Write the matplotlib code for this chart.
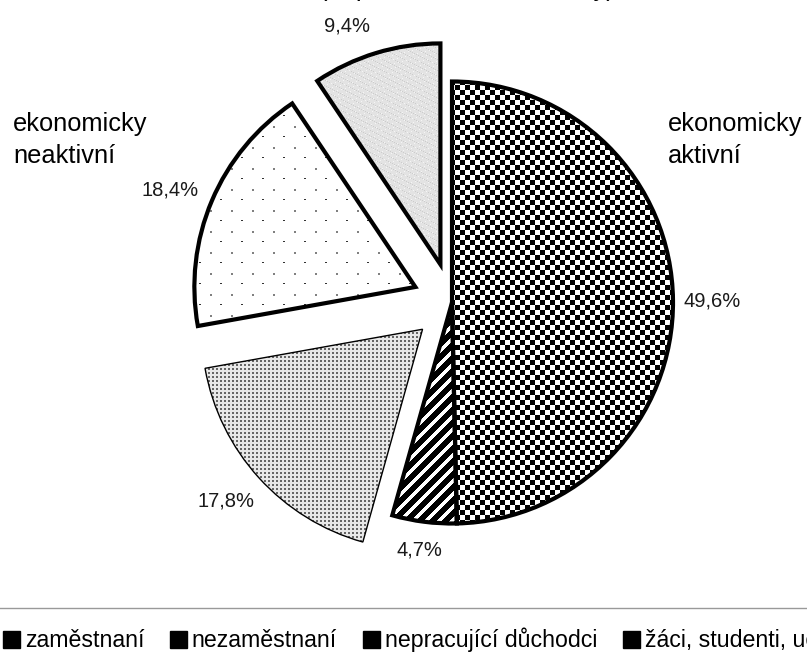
import numpy as np
import matplotlib
matplotlib.use('Agg')
import matplotlib.pyplot as plt
from matplotlib.patches import Patch

plt.rcParams['font.family'] = ['Liberation Sans', 'DejaVu Sans']

categories = ['zaměstnaní', 'nezaměstnaní', 'nepracující důchodci',
              'žáci, studenti, učni', 'ostatní']
shares = [49.6, 4.7, 17.8, 18.4, 9.4]
share_labels = ['49,6%', '4,7%', '17,8%', '18,4%', '9,4%']
explode = [0, 0, 0.18, 0.18, 0.18]
# small pixel nudges of the percentage labels (dx right, dy down)
label_nudge = [(2, 1), (0, -9), (-5, -2), (-7, 4), (-18, 9)]

W, H = 807, 664
CX, CY, R = 452, 302.5, 221   # pie centre / radius in pixels

fig = plt.figure(figsize=(W / 100, H / 100), dpi=100)
ax = fig.add_axes([0, 0, 1, 1])

lbl_iter = iter(share_labels)
wedges, texts, autotexts = ax.pie(
    shares, explode=explode, startangle=90, counterclock=False,
    colors=['none'] * len(shares), autopct=lambda p: next(lbl_iter),
    pctdistance=1.17, wedgeprops=dict(edgecolor='black', linewidth=3),
    textprops=dict(fontsize=14.5, color='#1a1a1a'))
wedges[2].set_linewidth(1.0)
for w in wedges:
    w.set_zorder(3)
for t, (dx, dy) in zip(autotexts, label_nudge):
    x, y = t.get_position()
    t.set_position((x + dx / R, y - dy / R))

# fill textures (pixel grid of the figure)
ii, jj = np.mgrid[0:H, 0:W]
checker = np.where(((ii // 5) + (jj // 5)) % 2 == 0, 0.0, 1.0)
stripes = np.where((ii + jj) % 13 < 8, 0.0, 1.0)
fine = np.where((ii % 4 < 2) & (jj % 4 < 2), 0.4, 0.91)
sparse = np.ones((H, W))
sparse[(ii % 21 < 2) & (jj % 21 < 2)] = 0.5
sparse[(ii % 21 == 10) & (jj % 21 >= 10) & (jj % 21 < 12)] = 0.2
speck = np.full((H, W), 0.89)
speck[(ii * 7 + jj * 13) % 11 == 0] = 0.8
speck[(ii * 3 + jj * 5) % 17 == 0] = 0.96
textures = [checker, stripes, fine, sparse, speck]

ext = (-CX / R, (W - CX) / R, -(H - CY) / R, CY / R)
for w, tex in zip(wedges, textures):
    im = ax.imshow(tex, cmap='gray', vmin=0, vmax=1, extent=ext,
                   interpolation='nearest', zorder=1)
    im.set_clip_path(w)
ax.set_xlim(ext[0], ext[1])
ax.set_ylim(ext[2], ext[3])
ax.set_aspect('auto')
ax.axis('off')

# group labels
fig.text(668 / W, 1 - 131 / H, 'ekonomicky', fontsize=18.3, va='baseline')
fig.text(668 / W, 1 - 163 / H, 'aktivní', fontsize=18.3, va='baseline')
fig.text(13 / W, 1 - 131 / H, 'ekonomicky', fontsize=18.3, va='baseline')
fig.text(13 / W, 1 - 163 / H, 'neaktivní', fontsize=18.3, va='baseline')
fig.text(319 / W, 1 + 4 / H, '(např. další závislé osoby)', fontsize=18.3, va='baseline')

handles = [Patch(facecolor='black', edgecolor='black') for _ in categories]
leg = fig.legend(handles, categories, loc='upper left',
                 bbox_to_anchor=(-0.021, 1 - 608 / H), ncol=5, fontsize=16.7,
                 frameon=True, fancybox=False, edgecolor='#808080',
                 borderaxespad=0, borderpad=0.85, handlelength=0.75,
                 handleheight=0.75, handletextpad=0.2, columnspacing=1.1)
leg.get_frame().set_linewidth(1)

fig.savefig('out.png', dpi=100)
